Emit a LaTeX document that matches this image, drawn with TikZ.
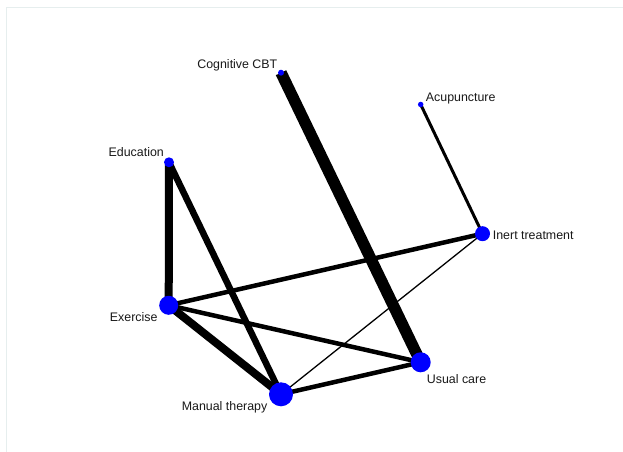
\documentclass[tikz,border=0pt]{standalone}
\usepackage{fontspec}
\setmainfont{Liberation Sans}
\definecolor{nodeblue}{RGB}{0,0,255}
\definecolor{framegray}{RGB}{230,238,238}
\begin{document}
\begin{tikzpicture}[x=1bp,y=-1bp,
  vert/.style={circle,fill=nodeblue,draw=none,inner sep=0pt,minimum size=#1},
  lab/.style={font=\fontsize{12.4bp}{14bp}\selectfont,inner sep=0pt,text=black!90},
  edge/.style={draw=black,line width=#1,line cap=butt}]
\useasboundingbox (0,0) rectangle (623,452);
\fill[white] (0,0) rectangle (623,452);
\draw[framegray,line width=1bp] (6,452) -- (6,8) -- (623,8);
% node positions
\coordinate (pCBT) at (281,72.7);
\coordinate (pAcu) at (420.7,104.5);
\coordinate (pEdu) at (169,162.3);
\coordinate (pIne) at (482.5,233.7);
\coordinate (pExe) at (168.7,305.3);
\coordinate (pMan) at (281,394.3);
\coordinate (pUsu) at (420.7,362.3);
% edges
\draw[edge=11.5bp] (pCBT) -- (pUsu);
\draw[edge=3bp] (pAcu) -- (pIne);
\draw[edge=8bp] (pEdu) -- (pExe);
\draw[edge=6.5bp] (pEdu) -- (pMan);
\draw[edge=4.5bp] (pExe) -- (pIne);
\draw[edge=4.5bp] (pExe) -- (pUsu);
\draw[edge=8bp] (pExe) -- (pMan);
\draw[edge=4.5bp] (pMan) -- (pUsu);
\draw[edge=1.3bp] (pMan) -- (pIne);
% nodes
\node[vert=6bp] (CBT) at (pCBT) {};
\node[vert=5.5bp] (Acu) at (pAcu) {};
\node[vert=10bp] (Edu) at (pEdu) {};
\node[vert=15bp] (Ine) at (pIne) {};
\node[vert=19bp] (Exe) at (pExe) {};
\node[vert=24bp] (Man) at (pMan) {};
\node[vert=20bp] (Usu) at (pUsu) {};
% labels
\node[lab,anchor=base east] (lCBT) at (277.5,68.5) {Cognitive CBT};
\node[lab,anchor=base west] (lAcu) at (425.7,101.8) {Acupuncture};
\node[lab,anchor=base east] (lEdu) at (164,156.2) {Education};
\node[lab,anchor=base west] (lIne) at (492.7,239.2) {Inert treatment};
\node[lab,anchor=base east] (lExe) at (157.7,321.2) {Exercise};
\node[lab,anchor=base east] (lMan) at (267.5,410.8) {Manual therapy};
\node[lab,anchor=base west] (lUsu) at (426.7,383.8) {Usual care};
\end{tikzpicture}
\end{document}
